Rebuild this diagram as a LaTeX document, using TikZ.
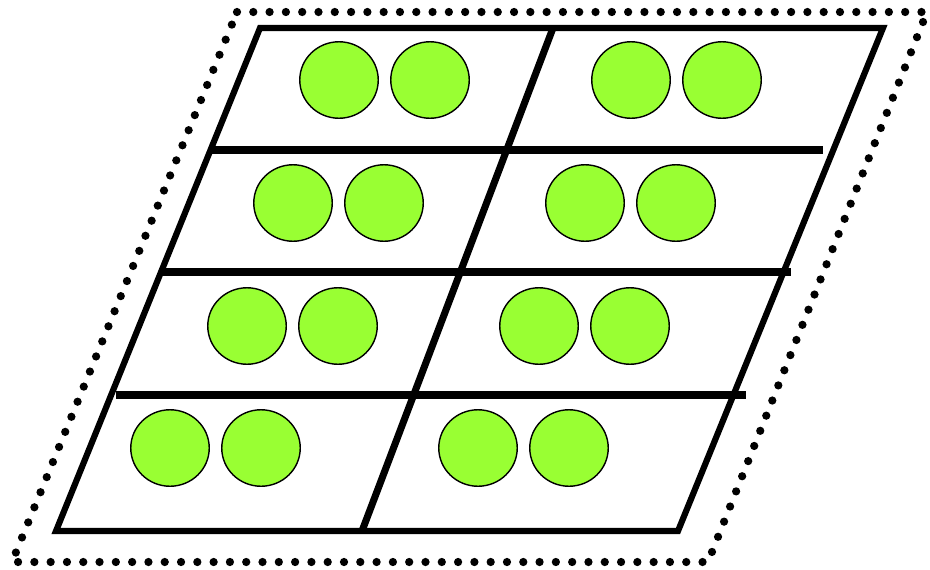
\documentclass[tikz,border=0pt]{standalone}
\usetikzlibrary{shapes.geometric}
\definecolor{ballgreen}{HTML}{99FF33}
\begin{document}
\begin{tikzpicture}[x=0.02cm, y=-0.02cm,
			ball/.style={draw, ellipse, fill=ballgreen, line width=0.8pt, minimum width=1.57cm, minimum height=1.53cm, inner sep=0pt},
			frame/.style={line width=3.5pt, line join=miter},
			bar/.style={line width=4pt},
			dots/.style={line width=0.165cm, line cap=round, dash pattern=on 0pt off 0.326cm}]
			\useasboundingbox (0,0) rectangle (930,569);
			%gepunkteter Rand
			\draw[dots] (237,12) -- (927,12) -- (708,562) -- (12,562) -- cycle;
			%Rahmen zeichnen
			\coordinate (tl) at (260,28);
			\coordinate (tr) at (883,28);
			\coordinate (br) at (678,531);
			\coordinate (bl) at (56,531);
			\draw[frame] (tl) -- (tr) -- (br) -- (bl) -- cycle;
			%Mittellinie
			\coordinate (mt) at (553,28);
			\coordinate (mb) at (362,531);
			\draw[bar] (mt) -- (mb);
			%Querbalken
			\foreach \y/\xa/\xb in {150/212/823, 272/160/791, 395/116/746}
				\draw[bar] (\xa,\y) -- (\xb,\y);
			%Kugeln
			\foreach \r/\y/\a/\b in {1/80/339/631, 2/203/293/585, 3/326/247/539, 4/448/170/478}
			{
				\node[ball] (l\r-1) at (\a,\y) {};
				\node[ball] (l\r-2) at (\a+91,\y) {};
				\node[ball] (r\r-1) at (\b,\y) {};
				\node[ball] (r\r-2) at (\b+91,\y) {};
			}
		\end{tikzpicture}
\end{document}
